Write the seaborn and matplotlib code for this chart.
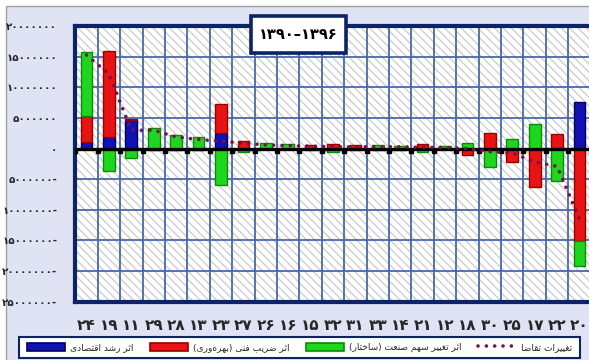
import numpy as np
import matplotlib
matplotlib.use("Agg")
import matplotlib.pyplot as plt
import matplotlib.transforms as mtransforms
from matplotlib.patches import Rectangle, Patch
from matplotlib.lines import Line2D
import seaborn as sns

# ---- data (values in rials, millions) ----
industries = ["24", "19", "11", "29", "28", "13", "23", "27", "26", "16", "15", "32",
              "31", "33", "14", "21", "12", "18", "30", "25", "17", "22", "20"]
growth_effect = [1.0, 1.9, 4.7, 0.0, -0.3, -0.3, 2.55, -0.2, -0.1, -0.1, 0.0, 0.0,
                 0.0, 0.0, 0.0, 0.0, 0.0, 0.0, 0.0, 0.0, 0.0, 0.0, 7.7]
technical_effect = [4.35, 14.05, 0.2, -0.3, 0.0, 0.0, 4.8, 1.2, 0.0, 0.0, 0.6, 0.8,
                    0.6, -0.2, -0.2, 0.8, -0.1, -1.0, 2.55, -2.2, -6.3, 2.4, -15.1]
structure_effect = [10.5, -3.7, -1.5, 3.3, 2.3, 1.9, -5.9, -0.3, 0.9, 0.8, -0.2, -0.6,
                    -0.3, 0.6, 0.5, -0.6, 0.5, 0.9, -3.0, 1.6, 4.1, -5.3, -4.1]
demand_change = [15.3, 12.2, 3.0, 3.0, 1.9, 1.5, 1.2, 0.9, 0.6, 0.5, 0.4, 0.3,
                 0.3, 0.3, 0.3, 0.2, 0.2, 0.0, -0.5, -0.7, -2.2, -2.9, -11.5]
y_ticks = [20, 15, 10, 5, 0, -5, -10, -15, -20, -25]
period_label = "۱۳۹۰–۱۳۹۶"

label_growth = "اثر رشد اقتصادی"
label_technical = "اثر ضریب فنی (بهره‌وری)"
label_structure = "اثر تغییر سهم صنعت (ساختار)"
label_demand = "تغییرات تقاضا"

# ---- Persian text helpers (contextual shaping + visual order) ----
FORMS = {
    "ا": ("\uFE8D", "\uFE8E", None, None),
    "ب": ("\uFE8F", "\uFE90", "\uFE91", "\uFE92"),
    "ت": ("\uFE95", "\uFE96", "\uFE97", "\uFE98"),
    "ث": ("\uFE99", "\uFE9A", "\uFE9B", "\uFE9C"),
    "خ": ("\uFEA5", "\uFEA6", "\uFEA7", "\uFEA8"),
    "د": ("\uFEA9", "\uFEAA", None, None),
    "ر": ("\uFEAD", "\uFEAE", None, None),
    "س": ("\uFEB1", "\uFEB2", "\uFEB3", "\uFEB4"),
    "ش": ("\uFEB5", "\uFEB6", "\uFEB7", "\uFEB8"),
    "ص": ("\uFEB9", "\uFEBA", "\uFEBB", "\uFEBC"),
    "ض": ("\uFEBD", "\uFEBE", "\uFEBF", "\uFEC0"),
    "ع": ("\uFEC9", "\uFECA", "\uFECB", "\uFECC"),
    "غ": ("\uFECD", "\uFECE", "\uFECF", "\uFED0"),
    "ف": ("\uFED1", "\uFED2", "\uFED3", "\uFED4"),
    "ق": ("\uFED5", "\uFED6", "\uFED7", "\uFED8"),
    "ل": ("\uFEDD", "\uFEDE", "\uFEDF", "\uFEE0"),
    "م": ("\uFEE1", "\uFEE2", "\uFEE3", "\uFEE4"),
    "ن": ("\uFEE5", "\uFEE6", "\uFEE7", "\uFEE8"),
    "ه": ("\uFEE9", "\uFEEA", "\uFEEB", "\uFEEC"),
    "و": ("\uFEED", "\uFEEE", None, None),
    "ی": ("\uFBFC", "\uFBFD", "\uFBFE", "\uFBFF"),
}


def shape_fa(text):
    out = []
    for i, ch in enumerate(text):
        if ch not in FORMS:
            if ch != "\u200c":
                out.append(ch)
            continue
        prev = text[i - 1] if i > 0 else ""
        nxt = text[i + 1] if i + 1 < len(text) else ""
        joins_prev = prev in FORMS and FORMS[prev][2] is not None
        joins_next = FORMS[ch][2] is not None and nxt in FORMS
        iso, fin, ini, med = FORMS[ch]
        if joins_prev and joins_next:
            out.append(med)
        elif joins_prev:
            out.append(fin)
        elif joins_next:
            out.append(ini)
        else:
            out.append(iso)
    mirror = {"(": ")", ")": "("}
    return "".join(mirror.get(c, c) for c in reversed(out))


FA_DIGITS = str.maketrans("0123456789", "۰۱۲۳۴۵۶۷۸۹")


def fa_num(v):
    s = str(abs(int(round(v * 1_000_000)))).translate(FA_DIGITS)
    return s + "-" if v < 0 else s


def px_box(x0, y0, x1, y1):
    """Figure-fraction rectangle from pixel corners (origin top-left)."""
    W, H = 589.0, 360.0
    return (x0 / W, 1 - y1 / H), (x1 - x0) / W, (y1 - y0) / H


# ---- style ----
sns.set_theme(style="white")
plt.rcParams["font.family"] = ["DejaVu Sans"]

GREEN, GREEN_EDGE = "#1fd61f", "#0b8a0b"
RED, RED_EDGE = "#e81414", "#9a0000"
BLUE, BLUE_EDGE = "#1212b4", "#000066"
NAVY = "#0b2466"
GRID = "#4a68a8"
DEMAND = "#7a1046"

fig = plt.figure(figsize=(5.89, 3.60), dpi=100, facecolor="white")
xy, w, h = px_box(6, 6, 600, 370)
fig.patches.append(Rectangle(xy, w, h, transform=fig.transFigure,
                             facecolor="#dfe3f3", edgecolor="#a0a0a0", lw=1.0, zorder=-10))

ax = fig.add_axes([75.3 / 589, 1 - 301.5 / 360, 515.4 / 589, 275.2 / 360])
ax.set_facecolor("white")
ax.add_patch(Rectangle((0, 0), 1, 1, transform=ax.transAxes, facecolor="white",
                       edgecolor="#cfcfcf", hatch="\\\\\\\\", lw=0, zorder=0))

n = len(industries)
series = [
    (growth_effect, BLUE, BLUE_EDGE),
    (technical_effect, RED, RED_EDGE),
    (structure_effect, GREEN, GREEN_EDGE),
]

# stacked bars: positive parts build upward, negative parts downward
pos_base = np.zeros(n)
neg_base = np.zeros(n)
for values, color, edge in series:
    vals = np.asarray(values, dtype=float)
    bottoms = np.where(vals >= 0, pos_base, neg_base)
    sns.barplot(x=industries, y=vals, order=industries, bottom=bottoms, color=color,
                saturation=1, width=0.52, edgecolor=edge, linewidth=1.0, ax=ax, zorder=3)
    pos_base = pos_base + np.clip(vals, 0, None)
    neg_base = neg_base + np.clip(vals, None, 0)

# zero line with boundary markers
ax.axhline(0, color="black", lw=2.4, zorder=5)
boundaries = np.arange(n + 1) - 0.5
drop = mtransforms.offset_copy(ax.transData, fig=fig, x=0, y=-2.5, units="dots")
ax.plot(boundaries, np.zeros(n + 1), ls="none", marker="s", ms=3.2, color="black",
        transform=drop, zorder=5)

# demand change line
sns.lineplot(x=np.arange(n), y=demand_change, ax=ax, color=DEMAND, lw=2.6,
             linestyle=(0, (0.01, 2.3)), dash_capstyle="round", zorder=6)

ax.set_xlim(-0.5, n - 0.5)
ax.set_ylim(-25, 20)
ax.set_yticks(y_ticks)
ax.set_yticklabels([fa_num(v) for v in y_ticks], fontsize=7.5, fontweight="bold")
ax.set_xticks(np.arange(n))
ax.set_xticklabels([s.translate(FA_DIGITS) for s in industries], fontsize=11,
                   fontweight="bold")
ax.set_xticks(boundaries, minor=True)
ax.tick_params(axis="y", length=0, pad=13)
ax.tick_params(axis="x", which="both", length=0, pad=12)
ax.grid(False)
ax.grid(True, which="major", axis="y", color=GRID, lw=1.3, zorder=1)
ax.grid(True, which="minor", axis="x", color=GRID, lw=1.3, zorder=1)
ax.set_axisbelow(True)
ax.set_xlabel("")
ax.set_ylabel("")
for sp in ax.spines.values():
    sp.set_visible(True)
    sp.set_color(NAVY)
    sp.set_linewidth(3)

# period box
xy, w, h = px_box(251, 15.5, 346, 52.5)
fig.patches.append(Rectangle(xy, w, h, transform=fig.transFigure, facecolor="white",
                             edgecolor=NAVY, lw=2.6, zorder=4))
fig.text(298.5 / 589, 1 - 34.5 / 360, period_label, ha="center", va="center",
         fontsize=10.5, fontweight="bold", color="black", zorder=5)

# legend panel
xy, w, h = px_box(19, 337, 580, 358)
fig.patches.append(Rectangle(xy, w, h, transform=fig.transFigure, facecolor="white",
                             edgecolor=NAVY, lw=1.5, zorder=2))
handles = [
    Patch(facecolor=BLUE, edgecolor=BLUE_EDGE, lw=1.2),
    Patch(facecolor=RED, edgecolor=RED_EDGE, lw=1.2),
    Patch(facecolor=GREEN, edgecolor=GREEN_EDGE, lw=1.2),
    Line2D([], [], color=DEMAND, lw=2.6, linestyle=(0, (0.01, 2.3)), dash_capstyle="round"),
]
labels = [shape_fa(t) for t in (label_growth, label_technical, label_structure, label_demand)]
leg = fig.legend(handles, labels, loc="center", ncol=4,
                 bbox_to_anchor=(299.5 / 589, 1 - 347.5 / 360),
                 fontsize=6.5, frameon=False, handlelength=4.2,
                 handleheight=1.0, handletextpad=0.6, borderpad=0.2, columnspacing=1.8,
                 borderaxespad=0)
leg.set_zorder(3)

fig.savefig("out.png", dpi=100, facecolor=fig.get_facecolor())
